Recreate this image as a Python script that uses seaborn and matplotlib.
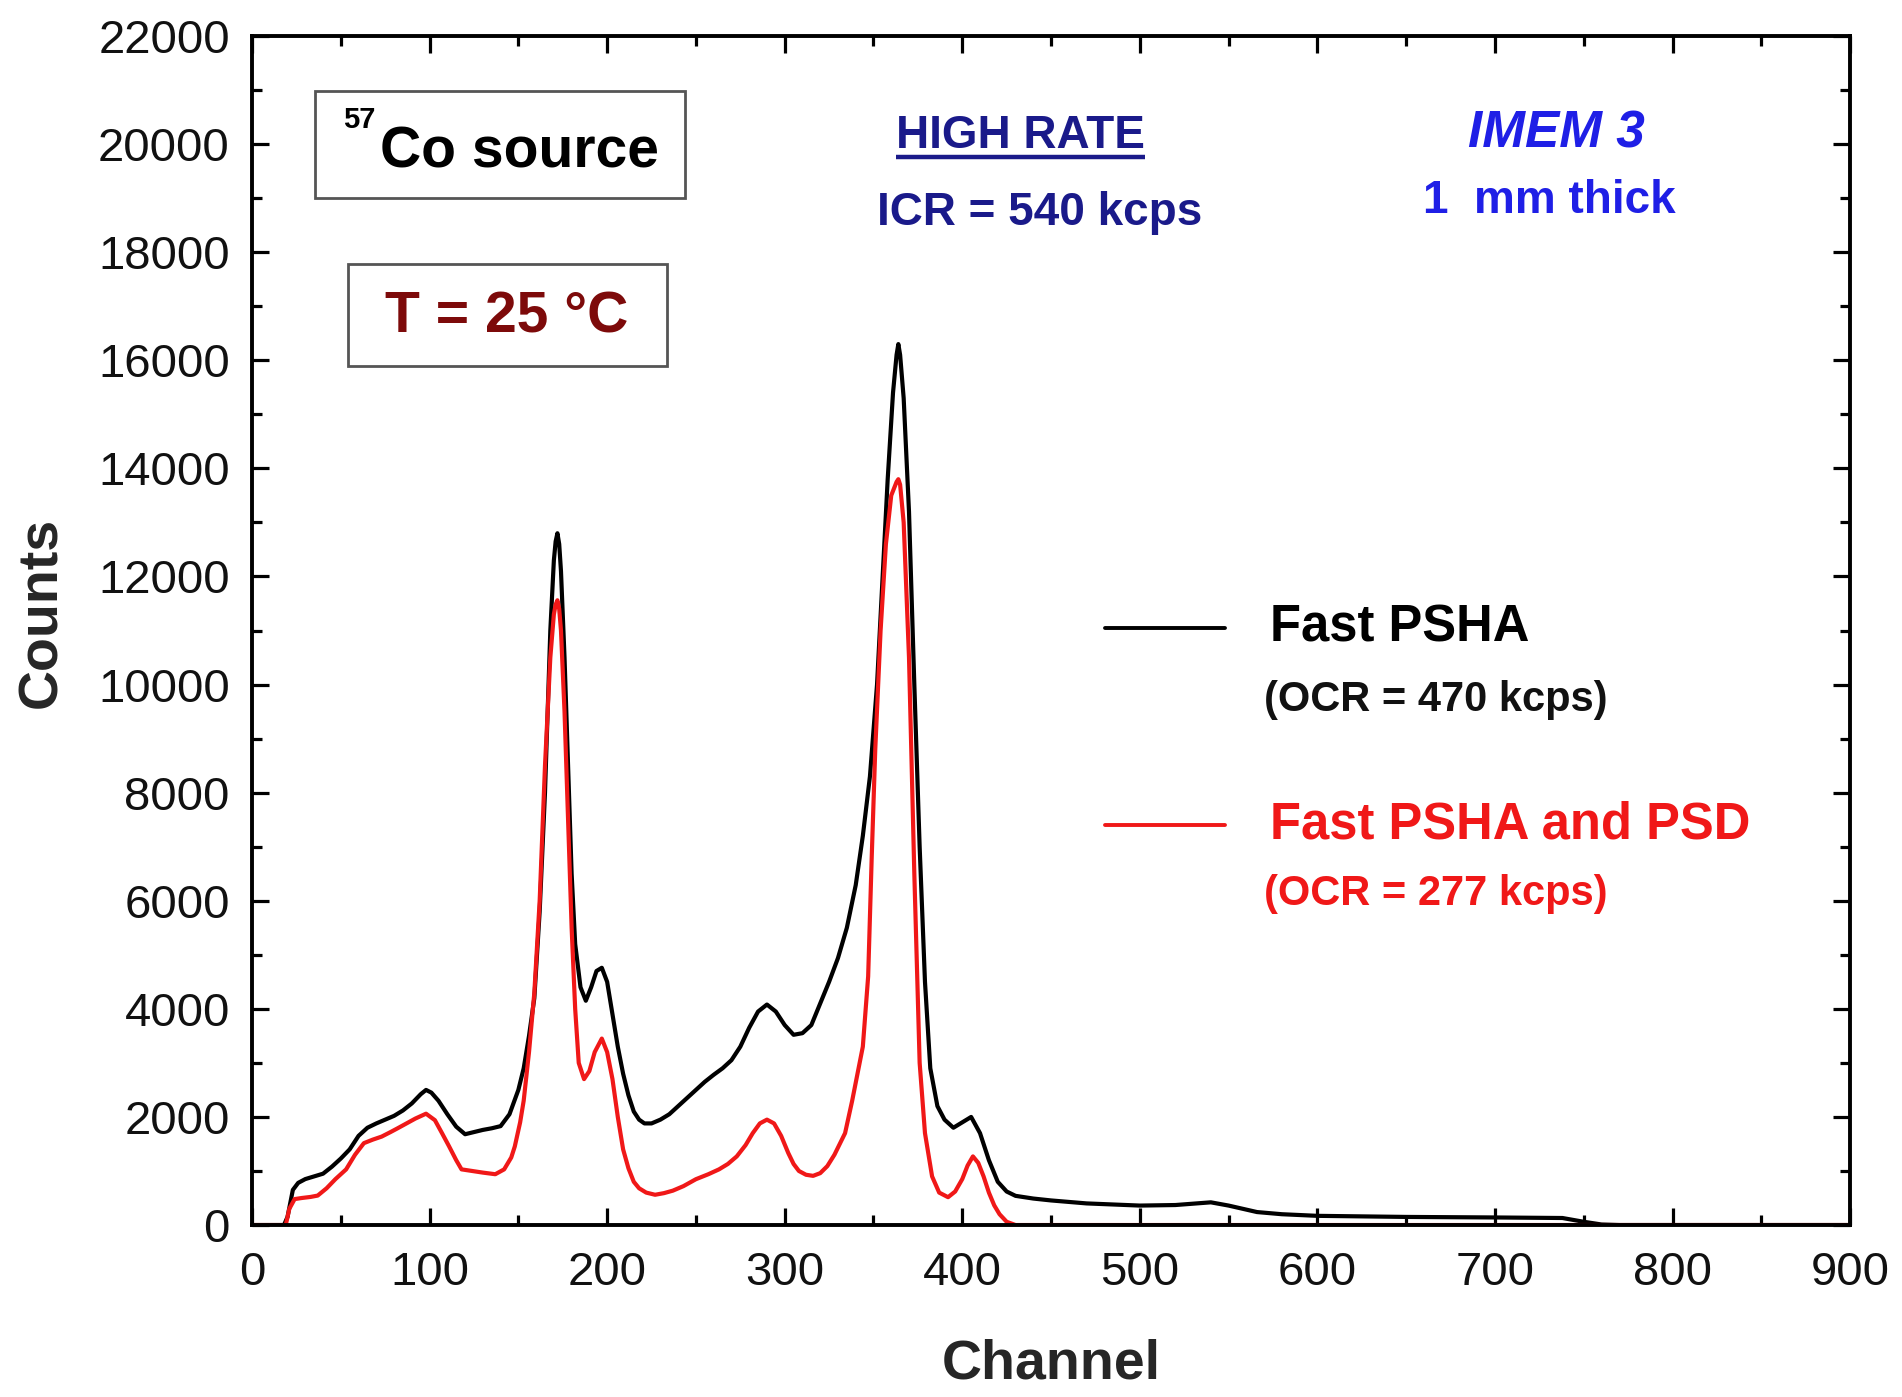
import numpy as np
import pandas as pd
import matplotlib
matplotlib.use("Agg")
import matplotlib.pyplot as plt
from matplotlib.patches import Rectangle
from matplotlib.ticker import MultipleLocator
import seaborn as sns

# ---------------- data ----------------
psha_channel = [0, 18, 20, 23, 26, 30, 35, 40, 45, 50, 55, 60, 65, 70, 75, 80, 85, 90, 95, 98,
                101, 105, 110, 115, 120, 125, 130, 135, 140, 145, 150, 153, 156, 159, 162, 165,
                168, 170, 171, 172, 173, 174, 176, 178, 180, 182, 185, 188, 191, 194, 197, 200, 203, 206,
                209, 212, 215, 218, 221, 225, 230, 235, 240, 245, 250, 255, 260, 265, 270, 275,
                280, 285, 290, 295, 300, 305, 310, 315, 320, 325, 330, 335, 340, 344, 348, 352,
                355, 358, 361, 363, 364, 365, 367, 370, 373, 376, 379, 382, 386, 390, 395, 400, 405, 410,
                415, 420, 425, 430, 440, 450, 470, 500, 520, 540, 550, 566, 580, 600, 650, 700,
                738, 750, 760, 770, 900]
psha_counts = [0, 0, 150, 650, 780, 850, 900, 950, 1080, 1230, 1400, 1650, 1800, 1880, 1950, 2020,
               2120, 2250, 2420, 2500, 2450, 2300, 2050, 1820, 1680, 1720, 1760, 1790, 1830, 2050,
               2500, 2900, 3500, 4200, 5800, 8000, 11000, 12300, 12650, 12800, 12600, 12100, 10500, 8500, 6500,
               5200, 4400, 4150, 4400, 4700, 4760, 4500, 3900, 3300, 2800, 2400, 2100, 1950, 1880,
               1880, 1950, 2050, 2200, 2350, 2500, 2650, 2780, 2900, 3050, 3300, 3650, 3950, 4080,
               3950, 3700, 3520, 3550, 3700, 4100, 4500, 4940, 5500, 6290, 7200, 8300, 10000,
               11900, 13800, 15400, 16100, 16300, 16100, 15300, 13200, 10000, 7000, 4500, 2900, 2200, 1950,
               1800, 1900, 2000, 1700, 1200, 800, 620, 540, 490, 455, 400, 360, 370, 420, 360,
               240, 200, 170, 150, 140, 130, 60, 10, 0, 0]

psd_channel = [0, 19, 21, 24, 28, 33, 37, 42, 47, 53, 58, 63, 68, 73, 78, 82, 87, 92, 98, 103,
               107, 111, 115, 118, 124, 130, 137, 142, 146, 148, 151, 153, 156, 159, 162, 165,
               168, 170, 171, 172, 173, 174, 176, 178, 180, 182, 184, 187, 190, 193, 197, 200, 203, 206,
               209, 212, 215, 218, 222, 227, 232, 237, 243, 250, 257, 263, 268, 273, 278, 282,
               286, 290, 294, 298, 302, 305, 308, 312, 316, 320, 324, 328, 331, 334, 338, 341,
               344, 347, 349, 351, 354, 357, 360, 363, 364, 365, 367, 370, 373, 376, 379, 383, 387, 392,
               396, 400, 403, 406, 409, 412, 415, 418, 421, 425, 430, 900]
psd_counts = [0, 0, 300, 480, 500, 520, 545, 680, 850, 1030, 1300, 1515, 1580, 1636, 1720, 1790,
              1880, 1970, 2060, 1940, 1700, 1455, 1200, 1030, 1000, 970, 940, 1030, 1250, 1455,
              1900, 2300, 3200, 4300, 6000, 8500, 10500, 11300, 11480, 11560, 11400, 11000, 9500, 7500, 5500,
              4000, 3000, 2700, 2850, 3200, 3450, 3200, 2700, 2000, 1400, 1050, 800, 680, 600,
              560, 590, 636, 720, 848, 940, 1030, 1130, 1270, 1480, 1700, 1880, 1950, 1880, 1650,
              1333, 1130, 1000, 930, 910, 960, 1090, 1300, 1500, 1700, 2300, 2800, 3300, 4600,
              6800, 8800, 11000, 12600, 13500, 13750, 13800, 13700, 13000, 10500, 6500, 3000, 1700, 900, 600,
              515, 620, 850, 1100, 1270, 1150, 900, 600, 364, 200, 60, 0, 0]

series_names = ["Fast PSHA", "Fast PSHA and PSD"]
series_sub = ["(OCR = 470 kcps)", "(OCR = 277 kcps)"]
x_ticks = list(range(0, 901, 100))
y_ticks = list(range(0, 22001, 2000))

# ---------------- figure ----------------
sns.set_theme(style="ticks")
plt.rcParams["font.family"] = ["Liberation Sans", "DejaVu Sans"]

BLACK = "#000000"
RED = "#f01818"
fig = plt.figure(figsize=(19.02, 13.97), dpi=100)
ax = fig.add_axes([0.1325, 0.1231, 0.8402, 0.8511])

df = pd.concat([
    pd.DataFrame({"Channel": psha_channel, "Counts": psha_counts, "Series": series_names[0]}),
    pd.DataFrame({"Channel": psd_channel, "Counts": psd_counts, "Series": series_names[1]}),
], ignore_index=True)

sns.lineplot(data=df, x="Channel", y="Counts", hue="Series",
             palette={series_names[0]: BLACK, series_names[1]: RED},
             estimator=None, linewidth=3.0, legend=False, ax=ax)

ax.set_xlim(0, 900)
ax.set_ylim(0, 22000)
ax.set_xticks(x_ticks)
ax.set_yticks(y_ticks)
ax.xaxis.set_minor_locator(MultipleLocator(50))
ax.yaxis.set_minor_locator(MultipleLocator(1000))
ax.tick_params(which="both", direction="in", top=True, right=True, color="black", width=2.3)
ax.tick_params(which="major", length=12, labelsize=34, labelcolor="#111111")
ax.tick_params(which="minor", length=7)
ax.tick_params(axis="x", which="major", pad=19)
ax.tick_params(axis="y", which="major", pad=16)
for s in ax.spines.values():
    s.set_linewidth(2.8)
    s.set_color("black")

ax.set_xlabel("Channel", fontsize=40, fontweight="bold")
ax.set_ylabel("Counts", fontsize=40, fontweight="bold")
ax.xaxis.label.set_va("center")
ax.yaxis.label.set_va("center")
ax.xaxis.set_label_coords(0.5, -0.1177)
ax.yaxis.set_label_coords(-0.1314, 0.515)

# ---------------- annotation boxes ----------------
ax.add_patch(Rectangle((0.0394, 0.864), 0.2316, 0.090, transform=ax.transAxes,
                       fill=False, edgecolor="#555555", linewidth=2.0, zorder=5))
ax.add_patch(Rectangle((0.060, 0.7225), 0.1997, 0.0855, transform=ax.transAxes,
                       fill=False, edgecolor="#555555", linewidth=2.0, zorder=5))
ax.text(0.0569, 0.929, "57", transform=ax.transAxes, fontsize=21, fontweight="bold",
        ha="left", va="center", color="black")
ax.text(0.080, 0.902, "Co source", transform=ax.transAxes, fontsize=41, fontweight="bold",
        ha="left", va="center", color="black")
ax.text(0.1596, 0.763, "T = 25 °C", transform=ax.transAxes, fontsize=41, fontweight="bold",
        ha="center", va="center", color="#7d0a0a")

NAVY = "#1a1a8a"
BLUE = "#1f1fe6"
hr = ax.text(0.481, 0.916, "HIGH RATE", transform=ax.transAxes, fontsize=33, fontweight="bold",
             ha="center", va="center", color=NAVY)
ax.text(0.493, 0.851, "ICR = 540 kcps", transform=ax.transAxes, fontsize=33, fontweight="bold",
        ha="center", va="center", color=NAVY)
ax.text(0.816, 0.918, "IMEM 3", transform=ax.transAxes, fontsize=37, fontweight="bold",
        style="italic", ha="center", va="center", color=BLUE)
ax.text(0.812, 0.861, "1  mm thick", transform=ax.transAxes, fontsize=33, fontweight="bold",
        ha="center", va="center", color=BLUE)

# underline of HIGH RATE
fig.canvas.draw()
bb = hr.get_window_extent(renderer=fig.canvas.get_renderer())
inv = ax.transAxes.inverted()
(x0, y0), (x1, y1) = inv.transform([[bb.x0, bb.y0], [bb.x1, bb.y1]])
ax.plot([x0, x1], [y0 + 0.001, y0 + 0.001], transform=ax.transAxes, color=NAVY, lw=3.2,
        solid_capstyle="butt")

# ---------------- manual legend ----------------
for name, sub, col, fy, fy2 in [(series_names[0], series_sub[0], BLACK, 0.502, 0.4415),
                                (series_names[1], series_sub[1], RED, 0.3364, 0.2784)]:
    ax.plot([0.534, 0.609], [fy, fy], transform=ax.transAxes, color=col, lw=2.8)
    ax.text(0.637, fy, name, transform=ax.transAxes, fontsize=36.5, fontweight="bold",
            ha="left", va="center", color=col)
    ax.text(0.633, fy2, sub, transform=ax.transAxes, fontsize=30, fontweight="bold",
            ha="left", va="center", color=col if col != BLACK else "#111111")

fig.savefig("out.png", dpi=100, facecolor="white")
